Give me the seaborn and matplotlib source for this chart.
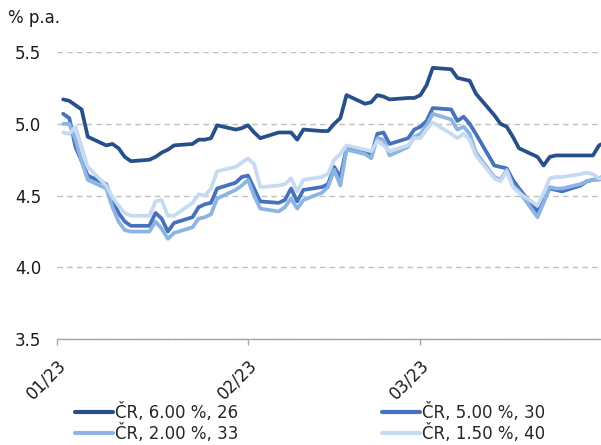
import matplotlib
matplotlib.use("Agg")
import matplotlib.pyplot as plt
import matplotlib.dates as mdates
import matplotlib.transforms as mtransforms
from matplotlib.lines import Line2D
import numpy as np
import pandas as pd
import seaborn as sns

# Daily yields of Czech government bonds (business days, Q1 2023)
dates = pd.bdate_range("2023-01-02", "2023-03-31")

series_labels = ["ČR, 6.00 %, 26", "ČR, 5.00 %, 30", "ČR, 2.00 %, 33", "ČR, 1.50 %, 40"]
series_colors = ["#27508a", "#4672bd", "#8db4e2", "#c6daf2"]

yield_600_26 = [
    5.17, 5.16, 5.13, 5.10, 4.91,
    4.85, 4.86, 4.83, 4.77, 4.74,
    4.75, 4.77, 4.80, 4.82, 4.85,
    4.86, 4.89, 4.89, 4.90, 4.99,
    4.96, 4.97,
    4.99, 4.94, 4.90,
    4.94, 4.94, 4.94, 4.89, 4.96,
    4.95, 4.95, 5.00, 5.04, 5.20,
    5.14, 5.15, 5.20, 5.19, 5.17,
    5.18, 5.18,
    5.20, 5.27, 5.39,
    5.38, 5.32, 5.31, 5.30, 5.21,
    5.06, 5.00, 4.98, 4.91, 4.83,
    4.77, 4.71, 4.77, 4.78, 4.78,
    4.78, 4.78, 4.78, 4.85, 4.87,
]
yield_500_30 = [
    5.07, 5.04, 4.84, 4.74, 4.64,
    4.58, 4.47, 4.38, 4.32, 4.29,
    4.29, 4.38, 4.34, 4.25, 4.31,
    4.35, 4.42, 4.44, 4.45, 4.55,
    4.59, 4.63,
    4.64, 4.55, 4.46,
    4.45, 4.47, 4.55, 4.46, 4.54,
    4.56, 4.58, 4.70, 4.63, 4.83,
    4.81, 4.78, 4.93, 4.94, 4.86,
    4.90, 4.96,
    4.98, 5.02, 5.11,
    5.10, 5.02, 5.05, 5.00, 4.93,
    4.71, 4.70, 4.69, 4.61, 4.55,
    4.39, 4.47, 4.55, 4.54, 4.53,
    4.57, 4.60, 4.61, 4.62, 4.64,
]
yield_200_33 = [
    5.00, 5.00, 4.89, 4.74, 4.61,
    4.55, 4.42, 4.32, 4.26, 4.25,
    4.25, 4.32, 4.27, 4.20, 4.24,
    4.28, 4.34, 4.35, 4.37, 4.48,
    4.54, 4.57,
    4.61, 4.50, 4.41,
    4.39, 4.42, 4.48, 4.41, 4.47,
    4.52, 4.56, 4.68, 4.57, 4.82,
    4.79, 4.76, 4.90, 4.89, 4.78,
    4.84, 4.91,
    4.93, 4.99, 5.07,
    5.03, 4.96, 4.98, 4.93, 4.80,
    4.63, 4.61, 4.68, 4.57, 4.53,
    4.35, 4.45, 4.56, 4.55, 4.55,
    4.58, 4.60, 4.61, 4.61, 4.63,
]
yield_150_40 = [
    4.94, 4.93, 4.98, 4.84, 4.70,
    4.57, 4.49, 4.43, 4.38, 4.36,
    4.36, 4.46, 4.47, 4.36, 4.36,
    4.45, 4.51, 4.50, 4.55, 4.67,
    4.70, 4.73,
    4.76, 4.72, 4.56,
    4.57, 4.58, 4.62, 4.53, 4.61,
    4.63, 4.65, 4.75, 4.79, 4.85,
    4.82, 4.81, 4.88, 4.85, 4.81,
    4.85, 4.90,
    4.90, 4.96, 5.01,
    4.93, 4.90, 4.93, 4.89, 4.78,
    4.62, 4.60, 4.67, 4.56, 4.52,
    4.43, 4.52, 4.62, 4.63, 4.63,
    4.65, 4.66, 4.65, 4.62, 4.63,
]

y_ticks = [3.5, 4.0, 4.5, 5.0, 5.5]
unit_label = "% p.a."

values = [yield_600_26, yield_500_30, yield_200_33, yield_150_40]
df = pd.concat(
    [pd.DataFrame({"date": dates, "yield": v, "bond": lab})
     for lab, v in zip(series_labels, values)],
    ignore_index=True,
)

sns.set_theme(style="white")
plt.rcParams["font.family"] = ["DejaVu Sans"]
FS = 12

fig = plt.figure(figsize=(6.01, 4.45), dpi=100)
ax = fig.add_axes([0.0948, 0.2375, 0.9052, 0.6456])

sns.lineplot(
    data=df, x="date", y="yield", hue="bond", hue_order=series_labels,
    palette=dict(zip(series_labels, series_colors)),
    linewidth=2.7, ax=ax, legend=False,
)

ax.set_ylim(3.5, 5.5)
ax.set_yticks(y_ticks)
ax.set_yticklabels([f"{t:.1f}" for t in y_ticks])
x0 = pd.Timestamp("2023-01-01")
ax.set_xlim(x0, x0 + pd.Timedelta(days=544 / 6.16))
ax.xaxis.set_major_locator(mdates.MonthLocator())
ax.xaxis.set_major_formatter(mdates.DateFormatter("%m/%y"))

ax.set_xlabel("")
ax.set_ylabel("")
for side in ("left", "top", "right"):
    ax.spines[side].set_visible(False)
ax.spines["bottom"].set_color("#a6a6a6")
ax.spines["bottom"].set_linewidth(1.0)

ax.yaxis.grid(True, color="#c0c0c0", linestyle=(0, (4, 3)), linewidth=1.0)
ax.xaxis.grid(False)
ax.set_axisbelow(True)

ax.tick_params(axis="y", length=0, pad=11.5, labelsize=FS, labelcolor="#1a1a1a")
ax.tick_params(axis="x", direction="out", length=4, width=1, color="#a6a6a6",
               pad=13, labelsize=FS, labelcolor="#1a1a1a", bottom=True)
shift = mtransforms.ScaledTranslation(6 / 100, 0, fig.dpi_scale_trans)
for lab in ax.get_xticklabels():
    lab.set_rotation(45)
    lab.set_ha("right")
    lab.set_va("center")
    lab.set_rotation_mode("anchor")
    lab.set_transform(lab.get_transform() + shift)

fig.text(8 / 601, 1 - 18 / 445, unit_label, fontsize=FS, va="center", ha="left",
         color="#1a1a1a")

handles = [Line2D([0], [0], color=c, lw=3.0) for c in series_colors]
order = [0, 2, 1, 3]
fig.legend(
    [handles[i] for i in order], [series_labels[i] for i in order],
    ncol=2, loc="upper left", bbox_to_anchor=(75 / 601, 1 - 403 / 445),
    frameon=False, fontsize=FS, handlelength=2.3, handletextpad=0.12,
    columnspacing=8.6, labelspacing=0.1, borderpad=0, borderaxespad=0,
)

fig.savefig("out.png", dpi=100)
